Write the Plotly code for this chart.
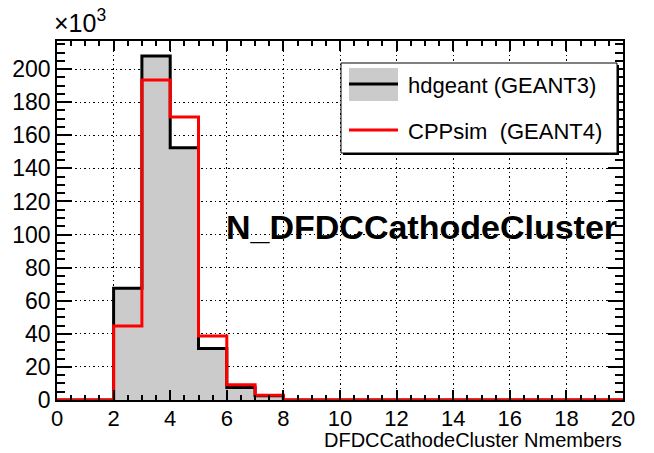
import numpy as np
import plotly.graph_objects as go

# bin edges 0..20, unit bins
bin_edges = list(range(0, 21))
# counts per bin, in thousands (axis shows x10^3)
hdgeant_k = [0, 0, 67.5, 207.9, 152.4, 31.2, 7.5, 2.5, 0, 0,
             0, 0, 0, 0, 0, 0, 0, 0, 0, 0]
cppsim_k = [0, 0, 44.7, 193.4, 171.0, 38.7, 9.2, 2.8, 0, 0,
            0, 0, 0, 0, 0, 0, 0, 0, 0, 0]
series_names = ["hdgeant (GEANT3)", "CPPsim\u00a0\u00a0(GEANT4)"]
hist_title = "N_DFDCCathodeCluster"
x_title = "DFDCCathodeCluster Nmembers"
y_ticks = list(range(0, 201, 20))
x_ticks = list(range(0, 21, 2))

W, H = 654, 453
L, R, T, B = 57, 31, 41, 53
FONT = "Liberation Sans, Arial, Helvetica, sans-serif"


def px(x):
    return (x - L) / (W - L - R)


def py(y):
    return (H - B - y) / (H - T - B)


def steps(vals):
    # histogram outline: repeat last value so the final bin is drawn
    return bin_edges, list(vals) + [vals[-1]]

fig = go.Figure()

xs, ys = steps(hdgeant_k)
fig.add_trace(go.Scatter(
    x=xs, y=ys, mode="lines", line_shape="hv",
    line=dict(color="black", width=3),
    fill="tozeroy", fillcolor="#cbcbcb",
    name=series_names[0], showlegend=False, hoverinfo="skip"))

xs, ys = steps(cppsim_k)
fig.add_trace(go.Scatter(
    x=xs, y=ys, mode="lines", line_shape="hv",
    line=dict(color="#ff0000", width=3),
    name=series_names[1], showlegend=False, hoverinfo="skip"))

axis_common = dict(
    showline=True, linecolor="black", linewidth=1.5, mirror="allticks",
    ticks="inside", tickcolor="black",
    showgrid=True, gridcolor="black", griddash="1.5px,3px", gridwidth=1.2,
    zeroline=False,
)

fig.update_xaxes(
    range=[0, 20], tickvals=x_ticks, ticktext=[str(v) for v in x_ticks],
    ticklen=10, tickwidth=1.5, ticklabelstandoff=-2,
    tickfont=dict(family=FONT, size=22, color="black"),
    minor=dict(dtick=0.5, ticklen=5, ticks="inside", tickcolor="black", showgrid=False),
    **axis_common)
fig.update_yaxes(
    range=[0, 217], tickvals=y_ticks, ticktext=[str(v) for v in y_ticks],
    ticklen=15, tickwidth=1.5,
    tickfont=dict(family=FONT, size=23, color="black"),
    minor=dict(dtick=5, ticklen=8, ticks="inside", tickcolor="black", showgrid=False),
    **axis_common)

# legend box drawn by hand (ROOT style)
shapes = [
    dict(type="rect", xref="paper", yref="paper",
         x0=px(343), x1=px(619), y0=py(155), y1=py(65),
         fillcolor="black", line=dict(width=0), layer="above"),
    dict(type="rect", xref="paper", yref="paper",
         x0=px(341), x1=px(617), y0=py(153), y1=py(63),
         fillcolor="white", line=dict(color="black", width=1), layer="above"),
    dict(type="rect", xref="paper", yref="paper",
         x0=px(349), x1=px(398), y0=py(101), y1=py(68),
         fillcolor="#cbcbcb", line=dict(width=0), layer="above"),
    dict(type="line", xref="paper", yref="paper",
         x0=px(349), x1=px(398), y0=py(84), y1=py(84),
         line=dict(color="black", width=3), layer="above"),
    dict(type="line", xref="paper", yref="paper",
         x0=px(349), x1=px(398), y0=py(130), y1=py(130),
         line=dict(color="#ff0000", width=3), layer="above"),
]

annotations = [
    dict(text=series_names[0], xref="paper", yref="paper", x=px(406), y=py(85),
         xanchor="left", yanchor="middle", showarrow=False,
         font=dict(family=FONT, size=22, color="black")),
    dict(text=series_names[1], xref="paper", yref="paper", x=px(406), y=py(131),
         xanchor="left", yanchor="middle", showarrow=False,
         font=dict(family=FONT, size=22, color="black")),
    dict(text="<b>" + hist_title + "</b>", xref="paper", yref="paper",
         x=px(619), y=py(227), xanchor="right", yanchor="middle", showarrow=False,
         font=dict(family=FONT, size=34, color="black")),
    dict(text=x_title, xref="paper", yref="paper", x=px(624), y=py(440),
         xanchor="right", yanchor="middle", showarrow=False,
         font=dict(family=FONT, size=20, color="black")),
    dict(text="\u00d710<sup>3</sup>", xref="paper", yref="paper", x=px(52), y=py(39),
         xanchor="left", yanchor="bottom", showarrow=False,
         font=dict(family=FONT, size=25, color="black")),
]

fig.update_layout(
    width=W, height=H,
    margin=dict(l=L, r=R, t=T, b=B, pad=0),
    paper_bgcolor="white", plot_bgcolor="white",
    shapes=shapes, annotations=annotations,
    showlegend=False,
)

# drop the browser's default 8px body margin so the figure sits at 0,0
fig.write_html("out.html", config={"displayModeBar": False},
               post_script="document.body.style.margin='0';")
